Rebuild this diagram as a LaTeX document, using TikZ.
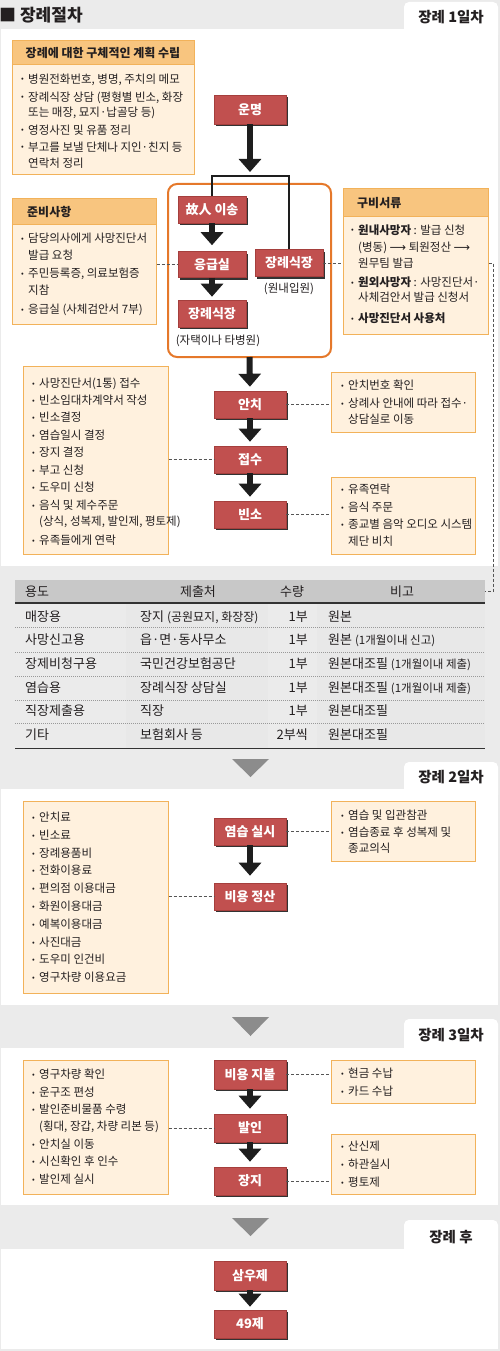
\documentclass[tikz,border=0pt]{standalone}
\usepackage{fontspec}
\setmainfont{Noto Sans CJK KR}
\newfontfamily\dvfont{DejaVu Sans}
\usetikzlibrary{arrows.meta,shadows}
\definecolor{bggray}{HTML}{EBEBEB}
\definecolor{redbox}{HTML}{C1504F}
\definecolor{redline}{HTML}{A53F3D}
\definecolor{shadowc}{HTML}{333333}
\definecolor{ohead}{HTML}{F8C57F}
\definecolor{oline}{HTML}{F2B25A}
\definecolor{cream}{HTML}{FFF1DE}
\definecolor{frameor}{HTML}{E5782A}
\definecolor{trigray}{HTML}{8C8C8C}
\definecolor{thead}{HTML}{C8C8C8}
\definecolor{tcol}{HTML}{E8E8E8}
\definecolor{txt}{HTML}{231F20}
\definecolor{dashc}{HTML}{555555}
\definecolor{arrowc}{HTML}{1E1E1E}
\newcounter{tn}
\newcommand{\bl}[4]{\stepcounter{tn}\node[bdot] (d\arabic{tn}) at (#1,#3+3) {•};\node[btxt] (t\arabic{tn}) at (#2,#3+4.2) {#4};}
\newcommand{\bc}[3]{\stepcounter{tn}\node[btxt] (t\arabic{tn}) at (#1,#2+4.2) {#3};}
\begin{document}
\begin{tikzpicture}[x=1pt,y=-1pt,
  rbox/.style={fill=redbox, draw=redline, line width=0.6pt, text=white, font=\fontsize{13}{15}\selectfont\bfseries, inner sep=0pt, minimum width=72pt, minimum height=28pt, drop shadow={shadow xshift=2.2pt, shadow yshift=-2.2pt, opacity=1, fill=shadowc}},
  ibox/.style={draw=oline, fill=cream, line width=1pt, inner sep=0pt},
  hbox/.style={draw=oline, fill=ohead, line width=1pt, inner sep=0pt},
  btxt/.style={anchor=base west, inner sep=0pt, font=\fontsize{11.5}{13}\selectfont, text=txt},
  bdot/.style={anchor=base west, inner sep=0pt, font=\fontsize{8}{8}\selectfont, text=txt},
  ttl/.style={anchor=base west, inner sep=0pt, font=\fontsize{12}{14}\selectfont\bfseries, text=txt},
  tabtxt/.style={inner sep=0pt, font=\fontsize{14.5}{16}\selectfont\bfseries, text=txt},
  ttxt/.style={anchor=base west, inner sep=0pt, font=\fontsize{13}{15}\selectfont, text=txt},
  bigarrow/.style={draw=arrowc, line width=6pt, -{Triangle[width=22pt,length=13pt]}},
  dcon/.style={draw=dashc, line width=0.7pt, dash pattern=on 3pt off 2pt},
  tdot/.style={draw=black!40, line width=0.7pt, dash pattern=on 1pt off 1pt},
  brk/.style={draw=arrowc, line width=1.3pt},
  blank/.style={inner sep=0pt, outer sep=0pt},
]
\useasboundingbox (0,0) rectangle (500,1351);
% backgrounds
\fill[bggray] (0,0) rectangle (500,1351);
\fill[white] (1,29) rectangle (498,566);
\fill[white] (1,789) rectangle (498,1005);
\fill[white] (1,1048) rectangle (498,1205);
\fill[white] (1,1249) rectangle (498,1349);
\fill[white, rounded corners=5pt] (404,2) rectangle (498,40);
\fill[white, rounded corners=5pt] (404,762) rectangle (498,800);
\fill[white, rounded corners=5pt] (404,1019) rectangle (498,1060);
\fill[white, rounded corners=5pt] (404,1220) rectangle (498,1260);
\fill[trigray] (232,759) -- (269,759) -- (250.5,777) -- cycle;
\fill[trigray] (232,1017) -- (269,1017) -- (250.5,1036) -- cycle;
\fill[trigray] (232,1218) -- (269,1218) -- (250.5,1236) -- cycle;

% header texts
\node[anchor=base west, inner sep=0pt, font=\fontsize{17}{19}\selectfont\bfseries, text=txt] (maintitle) at (-1,21.5) {■ 장례절차};
\node[tabtxt] (tab1) at (451,17) {장례 1일차};
\node[tabtxt] (tab2) at (451,777) {장례 2일차};
\node[tabtxt] (tab3) at (451,1035) {장례 3일차};
\node[tabtxt] (tab4) at (451,1237) {장례 후};

% ===== Section 1 info boxes =====
\node[ibox, minimum width=182pt, minimum height=134pt] (plan) at (103,108) {};
\node[hbox, minimum width=182pt, minimum height=24pt] (planh) at (103,53) {};
\node[anchor=base, inner sep=0pt, font=\fontsize{12}{14}\selectfont\bfseries, text=txt] (plant) at (103,57.5) {장례에 대한 구체적인 계획 수립};
\bl{21}{28}{79}{병원전화번호, 병명, 주치의 메모}
\bl{21}{28}{97}{장례식장 상담 (평형별 빈소, 화장}
\bc{28}{112}{또는 매장, 묘지·납골당 등)}
\bl{21}{28}{130}{영정사진 및 유품 정리}
\bl{21}{28}{147}{부고를 보낼 단체나 지인·친지 등}
\bc{28}{163}{연락처 정리}

\node[ibox, minimum width=144pt, minimum height=125pt] (ready) at (84,261.5) {};
\node[hbox, minimum width=144pt, minimum height=25pt] (readyh) at (84,211.5) {};
\node[ttl] (readyt) at (27,216) {준비사항};
\bl{21}{28}{238}{담당의사에게 사망진단서}
\bc{28}{255}{발급 요청}
\bl{21}{28}{273}{주민등록증, 의료보험증}
\bc{28}{290}{지참}
\bl{21}{28}{309}{응급실 (사체검안서 7부)}

\node[ibox, minimum width=145pt, minimum height=145pt] (docs) at (415.5,261.5) {};
\node[hbox, minimum width=145pt, minimum height=27pt] (docsh) at (415.5,202.5) {};
\node[ttl] (docst) at (357,207.5) {구비서류};
\bl{351}{358}{230}{\textbf{원내사망자} : 발급 신청}
\bc{358}{247}{(병동) {\dvfont ⟶} 퇴원정산 {\dvfont ⟶}}
\bc{358}{263}{원무팀 발급}
\bl{351}{358}{282}{\textbf{원외사망자} : 사망진단서·}
\bc{358}{297}{사체검안서 발급 신청서}
\bl{351}{358}{318}{\textbf{사망진단서 사용처}}

\node[ibox, minimum width=145pt, minimum height=188pt] (L1) at (95.5,460) {};
\bl{32}{39}{383}{사망진단서(1통) 접수}
\bl{32}{39}{400}{빈소임대차계약서 작성}
\bl{32}{39}{417}{빈소결정}
\bl{32}{39}{435}{염습일시 결정}
\bl{32}{39}{452}{장지 결정}
\bl{32}{39}{470}{부고 신청}
\bl{32}{39}{487}{도우미 신청}
\bl{32}{39}{505}{음식 및 제수주문}
\bc{39}{521}{(상식, 성복제, 발인제, 평토제)}
\bl{32}{39}{540}{유족들에게 연락}

\node[ibox, minimum width=144pt, minimum height=60pt] (R1) at (403,402) {};
\bl{341}{348}{385}{안치번호 확인}
\bl{341}{348}{403}{상례사 안내에 따라 접수·}
\bc{348}{419}{상담실로 이동}

\node[ibox, minimum width=144pt, minimum height=77pt] (R2) at (403,515.5) {};
\bl{341}{348}{489}{유족연락}
\bl{341}{348}{507}{음식 주문}
\bl{341}{348}{524}{종교별 음악 오디오 시스템}
\bc{348}{541}{제단 비치}

% orange frame
\node[draw=frameor, line width=2pt, rounded corners=9pt, minimum width=163pt, minimum height=173pt, blank] (frame) at (249.5,270.5) {};

% red boxes section 1
\node[rbox, minimum height=29pt] (fate) at (250,109.5) {운명};
\node[rbox, minimum width=68pt, minimum height=27pt] (move) at (212,209.5) {故人 이송};
\node[rbox, minimum width=68pt, minimum height=26pt] (er) at (212,264.5) {응급실};
\node[rbox, minimum width=68pt, minimum height=27pt] (hall1) at (289,263) {장례식장};
\node[rbox, minimum width=68pt, minimum height=27pt] (hall2) at (212,313.5) {장례식장};
\node[inner sep=0pt, font=\fontsize{11.5}{13}\selectfont, text=txt] (hall1n) at (289,289) {(원내입원)};
\node[inner sep=0pt, font=\fontsize{11.5}{13}\selectfont, text=txt] (hall2n) at (218,341) {(자택이나 타병원)};
\node[rbox, minimum height=27pt] (anchi) at (250,404.5) {안치};
\node[rbox, minimum height=27pt] (jeopsu) at (250,459.5) {접수};
\node[rbox, minimum height=27pt] (binso) at (250,514.5) {빈소};

% bracket and arrows section 1
\coordinate (brL) at (212,176);
\coordinate (brR) at (289,176);
\draw[brk] (move.north) -- (brL) -- (brR) -- (hall1.north);
\draw[bigarrow, shorten >=4pt] (fate.south) -- (fate.south |- brL);
\draw[bigarrow, shorten >=6pt] (move.south) -- (er.north);
\draw[bigarrow, shorten >=3pt] (er.south) -- (hall2.north);
\draw[bigarrow, shorten >=4pt] (frame.south) -- (anchi.north);
\draw[bigarrow, shorten >=4pt] (anchi.south) -- (jeopsu.north);
\draw[bigarrow, shorten >=4pt] (jeopsu.south) -- (binso.north);

% dashed connectors section 1
\draw[dcon] (er.west -| ready.east) -- (er.west);
\draw[dcon] (hall1.east) -- (hall1.east -| docs.west);
\draw[dcon] (jeopsu.west -| L1.east) -- (jeopsu.west);
\draw[dcon] (anchi.east) -- (anchi.east -| R1.west);
\draw[dcon] (binso.east) -- (binso.east -| R2.west);

% ===== Table =====
\node[fill=thead, minimum width=470pt, minimum height=23pt, blank] (thd) at (250,591.5) {};
\node[fill=tcol, minimum width=142pt, minimum height=145pt, blank] (tc2) at (197,675.5) {};
\node[fill=tcol, minimum width=168pt, minimum height=145pt, blank] (tc4) at (401,675.5) {};
\draw[line width=1.6pt, draw=shadowc] (thd.south west) -- (thd.south east);
\foreach \yy in {627,652,676,700,723} \draw[tdot] (15,\yy) -- (485,\yy);
\draw[line width=1pt, draw=shadowc] (15,748) -- (485,748);
\coordinate (dk) at (493,0);
\draw[dcon] (hall1.east -| docs.east) -- (hall1.east -| dk) -- (thd.east -| dk) -- (thd.east);

\node[ttxt] (h1) at (25,596.5) {용도};
\node[ttxt, anchor=base] (h2) at (198,596.5) {제출처};
\node[ttxt, anchor=base] (h3) at (292,596.5) {수량};
\node[ttxt, anchor=base] (h4) at (402,596.5) {비고};

\node[ttxt] (r11) at (25,621.5) {매장용};
\node[ttxt] (r12) at (140,621.5) {장지 {\fontsize{12}{13}\selectfont(공원묘지, 화장장)}};
\node[ttxt, anchor=base east] (r13) at (308,621.5) {1부};
\node[ttxt] (r14) at (328,621.5) {원본};

\node[ttxt] (r21) at (25,644.5) {사망신고용};
\node[ttxt] (r22) at (140,644.5) {읍·면·동사무소};
\node[ttxt, anchor=base east] (r23) at (308,644.5) {1부};
\node[ttxt] (r24) at (328,644.5) {원본 {\fontsize{11.5}{13}\selectfont(1개월이내 신고)}};

\node[ttxt] (r31) at (25,668.5) {장제비청구용};
\node[ttxt] (r32) at (140,668.5) {국민건강보험공단};
\node[ttxt, anchor=base east] (r33) at (308,668.5) {1부};
\node[ttxt] (r34) at (328,668.5) {원본대조필 {\fontsize{11.5}{13}\selectfont(1개월이내 제출)}};

\node[ttxt] (r41) at (25,692.5) {염습용};
\node[ttxt] (r42) at (140,692.5) {장례식장 상담실};
\node[ttxt, anchor=base east] (r43) at (308,692.5) {1부};
\node[ttxt] (r44) at (328,692.5) {원본대조필 {\fontsize{11.5}{13}\selectfont(1개월이내 제출)}};

\node[ttxt] (r51) at (25,715.5) {직장제출용};
\node[ttxt] (r52) at (140,715.5) {직장};
\node[ttxt, anchor=base east] (r53) at (308,715.5) {1부};
\node[ttxt] (r54) at (328,715.5) {원본대조필};

\node[ttxt] (r61) at (25,739.5) {기타};
\node[ttxt] (r62) at (140,739.5) {보험회사 등};
\node[ttxt, anchor=base east] (r63) at (308,739.5) {2부씩};
\node[ttxt] (r64) at (328,739.5) {원본대조필};

% ===== Section 2 =====
\node[ibox, minimum width=145pt, minimum height=192pt] (L2) at (95.5,897) {};
\bl{32}{39}{817}{안치료}
\bl{32}{39}{835}{빈소료}
\bl{32}{39}{853}{장례용품비}
\bl{32}{39}{870}{전화이용료}
\bl{32}{39}{888}{편의점 이용대금}
\bl{32}{39}{906}{화원이용대금}
\bl{32}{39}{924}{예복이용대금}
\bl{32}{39}{942}{사진대금}
\bl{32}{39}{959}{도우미 인건비}
\bl{32}{39}{977}{영구차량 이용요금}

\node[ibox, minimum width=144pt, minimum height=60pt] (R3) at (403,831) {};
\bl{341}{348}{815}{염습 및 입관참관}
\bl{341}{348}{832}{염습종료 후 성복제 및}
\bc{348}{848}{종교의식}

\node[rbox, minimum height=27pt] (yeom) at (250,831.5) {염습 실시};
\node[rbox, minimum height=27pt] (settle) at (250,896.5) {비용 정산};
\draw[bigarrow, shorten >=7pt] (yeom.south) -- (settle.north);
\draw[dcon] (yeom.east) -- (yeom.east -| R3.west);
\draw[dcon] (settle.west -| L2.east) -- (settle.west);

% ===== Section 3 =====
\node[ibox, minimum width=145pt, minimum height=134pt] (L3) at (95.5,1127) {};
\bl{32}{39}{1074}{영구차량 확인}
\bl{32}{39}{1092}{운구조 편성}
\bl{32}{39}{1109}{발인준비물품 수령}
\bc{39}{1126}{(횡대, 장갑, 차량 리본 등)}
\bl{32}{39}{1144}{안치실 이동}
\bl{32}{39}{1161}{시신확인 후 인수}
\bl{32}{39}{1179}{발인제 실시}

\node[ibox, minimum width=144pt, minimum height=43pt] (R4) at (403,1081.5) {};
\bl{341}{348}{1073}{현금 수납}
\bl{341}{348}{1091}{카드 수납}

\node[ibox, minimum width=144pt, minimum height=60pt] (R5) at (403,1164) {};
\bl{341}{348}{1146}{산신제}
\bl{341}{348}{1164}{하관실시}
\bl{341}{348}{1182}{평토제}

\node[rbox, minimum height=29pt] (pay) at (250,1074.5) {비용 지불};
\node[rbox, minimum height=28pt] (balin) at (250,1128) {발인};
\node[rbox, minimum height=28pt] (jangji) at (250,1181) {장지};
\draw[bigarrow, shorten >=5pt] (pay.south) -- (balin.north);
\draw[bigarrow, shorten >=5pt] (balin.south) -- (jangji.north);
\draw[dcon] (pay.east) -- (pay.east -| R4.west);
\draw[dcon] (balin.west -| L3.east) -- (balin.west);
\draw[dcon] (jangji.east) -- (jangji.east -| R5.west);

% ===== Section 4 =====
\node[rbox, minimum height=29pt] (samu) at (250,1275.5) {삼우제};
\node[rbox, minimum height=28pt] (fortynine) at (250,1324) {49제};
\draw[bigarrow, shorten >=3pt] (samu.south) -- (fortynine.north);
\end{tikzpicture}
\end{document}
